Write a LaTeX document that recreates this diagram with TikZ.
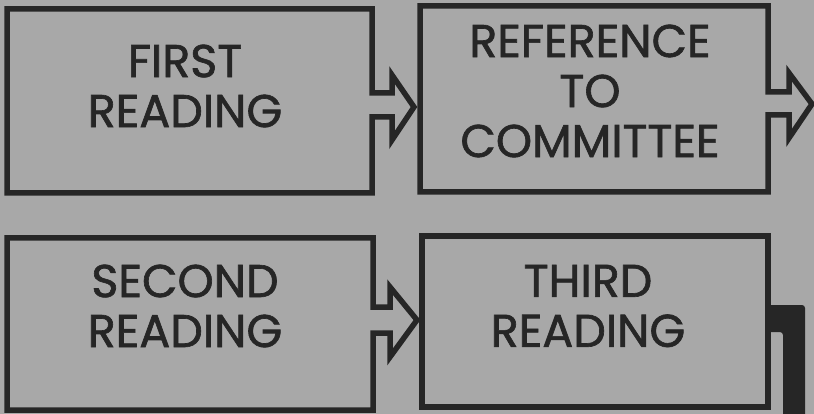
\documentclass[tikz,border=0pt]{standalone}
\usepackage{fontspec}
\setmainfont{Poppins}
\newfontfamily\medfont{Poppins}[FakeBold=1.4]
\definecolor{bg}{HTML}{A8A8A8}
\definecolor{ink}{HTML}{262626}
\tikzset{
  outline/.style={draw=ink, line width=5.5pt, line join=miter},
  label/.style={text=ink, align=center, inner sep=0pt, font=\medfont\fontsize{46}{50}\selectfont}
}
\begin{document}
\begin{tikzpicture}[x=1pt,y=-1pt]
\fill[bg] (0,0) rectangle (814,414);
\useasboundingbox (0,0) rectangle (814,414);
% box 1
\draw[outline] (7,9) -- (372,9) -- (372,93) -- (392,93) -- (392,75) -- (414,107) -- (392,140) -- (392,117) -- (372,117) -- (372,193) -- (7,193) -- cycle;
% box 2
\draw[outline] (420,6) -- (768,6) -- (768,92) -- (789,92) -- (789,73) -- (812,104) -- (789,138) -- (789,115) -- (768,115) -- (768,192) -- (420,192) -- cycle;
% box 3
\draw[outline] (7,238) -- (373,238) -- (373,307) -- (390,307) -- (390,287) -- (417,320) -- (390,357) -- (390,333) -- (373,333) -- (373,410) -- (7,410) -- cycle;
% box 4
\draw[outline] (422,236) rectangle (768,407);
\fill[ink, rounded corners=3pt] (766,305) -- (805,305) -- (805,420) -- (783,420) -- (783,332) -- (766,332) -- cycle;
\node[label] (first) at (185,86) {FIRST\\READING};
\node[label] (ref) at (590,91) {REFERENCE\\TO\\COMMITTEE};
\node[label] (second) at (185,306) {SECOND\\READING};
\node[label] (third) at (588,306) {THIRD\\READING};
\end{tikzpicture}
\end{document}
